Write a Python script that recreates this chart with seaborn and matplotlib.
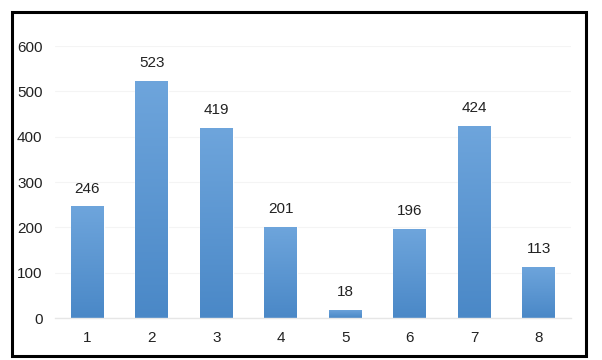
import matplotlib
matplotlib.use("Agg")
import matplotlib.pyplot as plt
import seaborn as sns
import numpy as np
import pandas as pd
from matplotlib.patches import Rectangle
from matplotlib.colors import LinearSegmentedColormap

categories = ["1", "2", "3", "4", "5", "6", "7", "8"]
values = [246, 523, 419, 201, 18, 196, 424, 113]
yticks = [0, 100, 200, 300, 400, 500, 600]

sns.set_style("white")
plt.rcParams['font.family'] = ['Liberation Sans', 'DejaVu Sans']

fig = plt.figure(figsize=(6.02, 3.6), dpi=100)
ax = fig.add_axes([55/602, (360-318)/360, (571-55)/602, (318-46)/360])

df = pd.DataFrame({"cat": categories, "val": values})
sns.barplot(data=df, x="cat", y="val", ax=ax, color="#5b9bd5", width=0.51,
            saturation=1)

cmap = LinearSegmentedColormap.from_list("g", ["#4a88c7", "#6ea5dc"])
grad = np.linspace(0, 1, 256).reshape(-1, 1)
for p in list(ax.patches):
    x0, y0 = p.get_x(), p.get_y()
    w, h = p.get_width(), p.get_height()
    im = ax.imshow(grad, cmap=cmap, origin="lower", aspect="auto",
                   extent=[x0, x0 + w, y0, y0 + h], zorder=p.get_zorder() + 0.1)
    im.set_clip_path(p)
    ax.text(x0 + w / 2, h + 24, f"{int(h)}", ha="center", va="bottom",
            fontsize=11, color="#222222")

ax.set_xlim(-0.5, len(categories) - 0.5)
ax.set_ylim(0, 600)
ax.set_yticks(yticks)
ax.yaxis.grid(True, color="#f4f4f4", linewidth=0.8)
ax.set_axisbelow(True)
for s in ["top", "right", "left"]:
    ax.spines[s].set_visible(False)
ax.spines["bottom"].set_color("#e6e6e6")
ax.spines["bottom"].set_linewidth(1)
ax.tick_params(axis="both", length=0, labelsize=11, colors="#222222")
ax.tick_params(axis="y", pad=9)
ax.tick_params(axis="x", pad=9)
ax.set_xlabel("")
ax.set_ylabel("")

fig.patches.append(Rectangle((12/602, 4/360), (586-12)/602, (348-4)/360,
                             transform=fig.transFigure, fill=False,
                             edgecolor="black", linewidth=2.2))
fig.savefig("out.png", dpi=100)
